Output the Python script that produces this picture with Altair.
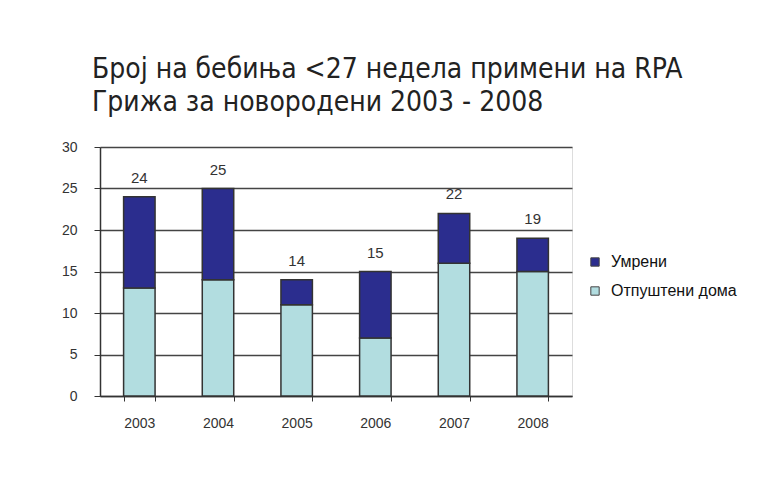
import altair as alt
import pandas as pd

years = ["2003", "2004", "2005", "2006", "2007", "2008"]
discharged = [13, 14, 11, 7, 16, 15]   # Отпуштени дома
died = [11, 11, 3, 8, 6, 4]            # Умрени
totals = [a + b for a, b in zip(discharged, died)]

s_died = "Умрени"
s_dis = "Отпуштени дома"

rows = []
for y, d, m in zip(years, discharged, died):
    rows.append({"year": y, "series": s_dis, "value": d, "ord": 0})
    rows.append({"year": y, "series": s_died, "value": m, "ord": 1})
df = pd.DataFrame(rows)
tot = pd.DataFrame({"year": years, "total": totals})

FONT = "Liberation Sans"

xenc = alt.X("year:N", title=None, sort=years,
             scale=alt.Scale(paddingInner=0.6, paddingOuter=0.3),
             axis=alt.Axis(labelAngle=0, labelFontSize=14, labelColor="#333",
                           labelFont=FONT, tickBand="extent", tickColor="#333",
                           tickSize=5, domainColor="#333", domainWidth=1.5,
                           labelPadding=15, grid=False))

bars = alt.Chart(df).mark_bar(stroke="#333", strokeWidth=1.5).encode(
    x=xenc,
    y=alt.Y("value:Q", stack="zero", title=None,
            scale=alt.Scale(domain=[0, 30]),
            axis=alt.Axis(values=[0, 5, 10, 15, 20, 25, 30], labelFontSize=14,
                          labelColor="#333", labelFont=FONT, gridColor="#444",
                          gridWidth=1.5, domainColor="#333", domainWidth=1.5,
                          tickColor="#333", tickSize=6, labelPadding=17)),
    color=alt.Color("series:N",
                    scale=alt.Scale(domain=[s_died, s_dis],
                                    range=["#2b2d8e", "#b2dde0"]),
                    legend=alt.Legend(title=None, orient="none", legendX=487,
                                      legendY=107, symbolType="square",
                                      symbolSize=70, symbolStrokeColor="#444",
                                      symbolStrokeWidth=1, labelFontSize=16,
                                      labelFont=FONT, labelColor="#111",
                                      rowPadding=13, labelOffset=8)),
    order=alt.Order("ord:Q"),
)

labels = alt.Chart(tot).mark_text(dy=-19, fontSize=15, font=FONT, color="#333").encode(
    x=alt.X("year:N", sort=years),
    y=alt.Y("total:Q"),
    text="total:Q",
)

chart = alt.layer(bars, labels).properties(
    width=472, height=249,
    title=alt.Title(["Број на бебиња <27 недела примени на RPA",
                     "Грижа за новородени 2003 - 2008"],
                    anchor="start", frame="group", dx=-8, offset=23,
                    fontSize=28, font="'DejaVu Sans Condensed', 'Liberation Sans'",
                    fontWeight="normal", color="#222", lineHeight=33),
    autosize=alt.AutoSizeParams(type="none"),
    padding={"left": 92, "top": 139, "right": 186, "bottom": 93},
).configure_view(stroke="#333", strokeWidth=1.5).configure(background="white")

chart.save("out.html", embed_options={"renderer": "svg", "actions": False})
